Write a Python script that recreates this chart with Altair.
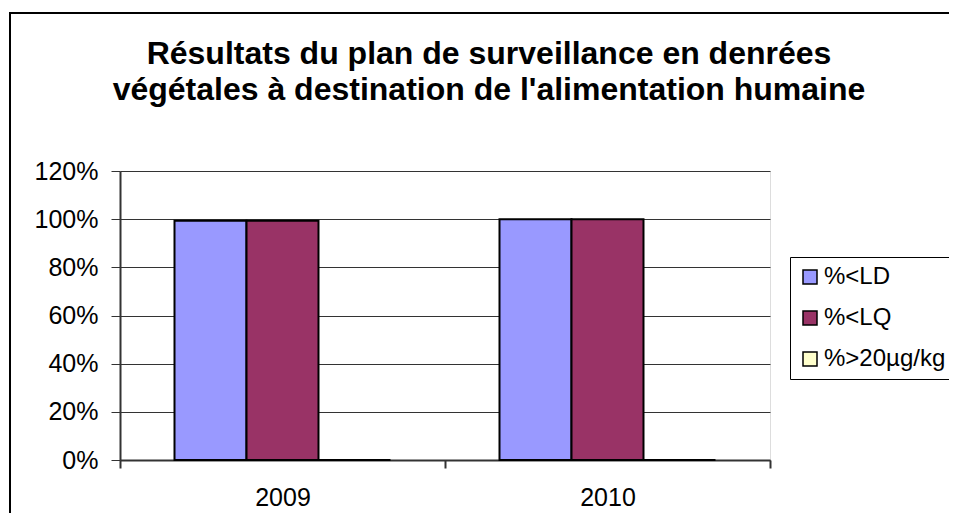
import altair as alt
import pandas as pd

years = ["2009", "2010"]
series = ["%<LD", "%<LQ", "%>20µg/kg"]
colors = ["#9999FF", "#993366", "#FFFFCC"]
val_ld = [0.993, 1.0]
val_lq = [0.993, 1.0]
val_20 = [0.0, 0.0]
y_ticks = [0, 0.2, 0.4, 0.6, 0.8, 1.0, 1.2]

rows = []
for i, y in enumerate(years):
    for s, v in zip(series, [val_ld[i], val_lq[i], val_20[i]]):
        rows.append({"year": y, "series": s, "value": v})
df = pd.DataFrame(rows)

FONT = "Liberation Sans"

frame = alt.Chart(pd.DataFrame({"k": [0]})).mark_rect(
    fillOpacity=0, stroke="black", strokeWidth=2
).encode(
    x=alt.value(-110), x2=alt.value(900), y=alt.value(-158), y2=alt.value(500)
)

bars = alt.Chart(df).mark_bar(stroke="black", strokeWidth=2).encode(
    x=alt.X(
        "year:N",
        sort=years,
        title=None,
        scale=alt.Scale(paddingInner=0, paddingOuter=0),
        axis=alt.Axis(
            labelAngle=0,
            tickBand="extent",
            tickSize=8,
            tickColor="#333333",
            tickWidth=2,
            domainColor="#333333",
            domainWidth=2,
            labelFontSize=25,
            labelFont=FONT,
            labelColor="black",
            labelPadding=17,
        ),
    ),
    xOffset=alt.XOffset("series:N", sort=series,
                        scale=alt.Scale(paddingInner=0, paddingOuter=0.757)),
    y=alt.Y(
        "value:Q",
        title=None,
        scale=alt.Scale(domain=[0, 1.2], nice=False),
        axis=alt.Axis(
            values=y_ticks,
            format=".0%",
            grid=True,
            gridColor="#333333",
            gridWidth=1,
            tickSize=9,
            tickColor="#333333",
            domainColor="#333333",
            domainWidth=2,
            labelFontSize=25,
            labelFont=FONT,
            labelColor="black",
            labelPadding=13,
        ),
    ),
    color=alt.Color(
        "series:N",
        scale=alt.Scale(domain=series, range=colors),
        legend=alt.Legend(
            title=None,
            orient="none",
            legendX=670,
            legendY=86,
            strokeColor="black",
            fillColor="white",
            padding=8,
            symbolType="square",
            symbolSize=196,
            symbolStrokeColor="black",
            symbolStrokeWidth=1.5,
            labelFontSize=24,
            labelFont=FONT,
            labelColor="black",
            labelOffset=2,
            rowPadding=17,
        ),
    ),
)

chart = alt.layer(frame, bars).properties(
    width=650,
    height=289,
    autosize=alt.AutoSizeParams(type="none"),
    padding={"left": 112, "top": 163, "right": 179, "bottom": 53},
    title=alt.TitleParams(
        text=["Résultats du plan de surveillance en denrées",
              "végétales à destination de l'alimentation humaine"],
        font=FONT,
        fontSize=32,
        fontWeight="bold",
        color="black",
        anchor="middle",
        frame="group",
        lineHeight=36,
        dx=44,
        dy=95,
        offset=0,
    ),
).configure_view(
    fill="#C0C0C0", stroke="#808080", strokeWidth=2
).configure(background="white")

chart.save("out.html", embed_options={"renderer": "svg", "actions": False})
